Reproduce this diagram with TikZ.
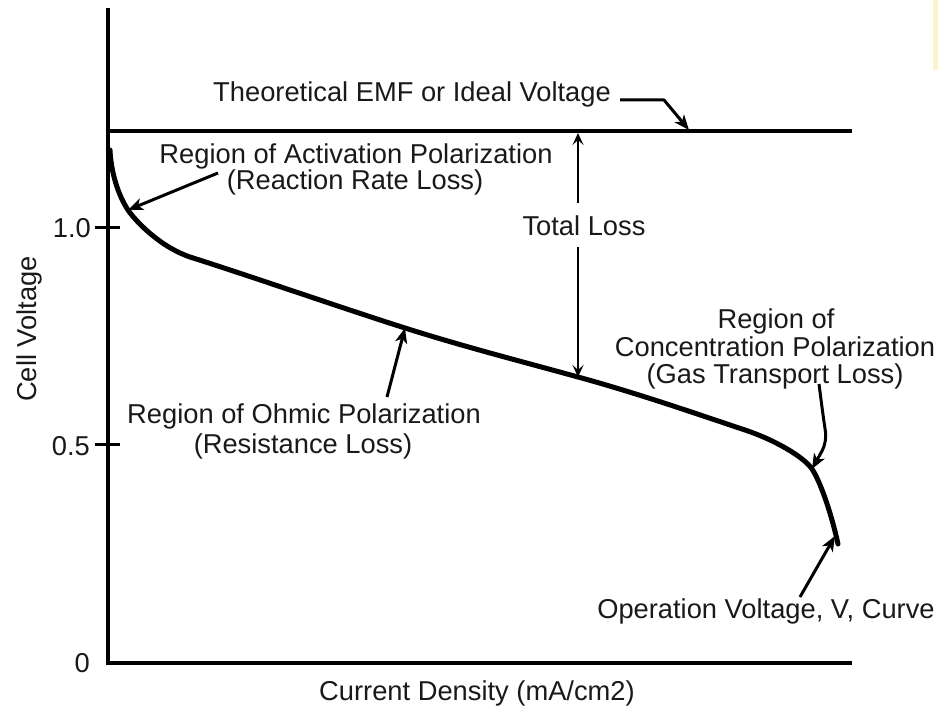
\documentclass[tikz,border=0pt]{standalone}
\usepackage{fontspec}
\setmainfont{Liberation Sans}
\usetikzlibrary{arrows.meta}
\definecolor{paleyellow}{RGB}{250,245,205}
\definecolor{txt}{RGB}{25,25,25}
\begin{document}
\begin{tikzpicture}[x=1pt,y=-1pt,
  lbl/.style={inner sep=0pt, anchor=base, text=txt, font=\fontsize{27.3}{27}\selectfont},
  ticklbl/.style={inner sep=0pt, anchor=east, text=txt, font=\fontsize{27.3}{27}\selectfont},
  axisline/.style={line width=3.5pt, line join=miter},
  curveline/.style={line width=5pt, line cap=round, line join=round},
  ptr/.style={line width=3pt, line join=round, -{Stealth[length=15pt,width=12pt,inset=4pt]}},
  thinptr/.style={line width=1.4pt, -{Stealth[length=12pt,width=11pt,inset=5pt]}}
]
\useasboundingbox (0,0) rectangle (938,706);
\fill[paleyellow] (933,0) rectangle (938,70);

% axes
\coordinate (Ytop) at (108,8);
\coordinate (O) at (108,663);
\coordinate (Xend) at (852,663);
\coordinate (Ia) at (108,131);
\coordinate (Ib) at (852,131);
\draw[axisline] (Ytop) -- (O) -- (Xend);
\draw[axisline] (Ia) -- (Ib);

% ticks
\coordinate (t1) at (108,228);
\coordinate (t5) at (108,444);
\draw[line width=3pt] ([xshift=-13pt]t1) -- ([xshift=12pt]t1);
\draw[line width=3pt] ([xshift=-13pt]t5) -- ([xshift=12pt]t5);
\node[ticklbl] (l10) at (91,228) {1.0};
\node[ticklbl] (l05) at (90,446) {0.5};
\node[ticklbl] (l0) at (90,663) {0};

% axis titles
\node[lbl, rotate=90] (ylab) at (36,329) {Cell Voltage};
\node[lbl] (xlab) at (477,700) {Current Density (mA/cm2)};

% curve
\coordinate (c0) at (110,150);
\coordinate (cA) at (128,210);
\coordinate (c2) at (190,257);
\coordinate (cO) at (405,328);
\coordinate (cT) at (578,377);
\coordinate (c5) at (745,430);
\coordinate (cC) at (812,469);
\coordinate (cEnd) at (838,544);
\coordinate (cV) at (835,536);
\draw[curveline] (c0) .. controls (111,172) and (118,195) .. (cA)
  .. controls (134,219) and (158,246) .. (c2)
  .. controls (250,276) and (345,309) .. (cO)
  .. controls (465,347) and (520,361) .. (cT)
  .. controls (640,394) and (700,415) .. (c5)
  .. controls (775,440) and (804,457) .. (cC)
  .. controls (820,481) and (831,512) .. (cEnd);

% labels
\node[lbl] (emf) at (412,102) {Theoretical EMF or Ideal Voltage};
\node[lbl] (act1) at (356,164) {Region of Activation Polarization};
\node[lbl] (act2) at (355,190) {(Reaction Rate Loss)};
\node[lbl] (tot) at (584,236) {Total Loss};
\node[lbl] (ohm1) at (304,423) {Region of Ohmic Polarization};
\node[lbl] (ohm2) at (303,453) {(Resistance Loss)};
\node[lbl] (con1) at (776,328) {Region of};
\node[lbl] (con2) at (775,356) {Concentration Polarization};
\node[lbl] (con3) at (775,383) {(Gas Transport Loss)};
\node[lbl] (opv) at (766,618) {Operation Voltage, V, Curve};

% pointers
\coordinate (eT) at (620,100);
\coordinate (eB) at (664,100);
\coordinate (cE) at (689,130);
\draw[ptr] (eT) -- (eB) -- (cE);

\coordinate (aT) at (218,173);
\draw[ptr] (aT) -- (cA);

\coordinate (tlA) at (578,203);
\coordinate (tlB) at (578,247);
\coordinate (tlTop) at (578,133);
\draw[thinptr] (tlA) -- (tlTop);
\draw[thinptr] (tlB) -- (cT);

\coordinate (oT) at (387,397);
\draw[ptr] (oT) -- (cO);

\coordinate (cTail) at (819,384);
\coordinate (cBend) at (827,442);
\draw[ptr, rounded corners=10pt] (cTail) -- (823,415) -- (cBend) -- (cC);

\coordinate (vT) at (800,597);
\draw[ptr] (vT) -- (cV);
\end{tikzpicture}
\end{document}
